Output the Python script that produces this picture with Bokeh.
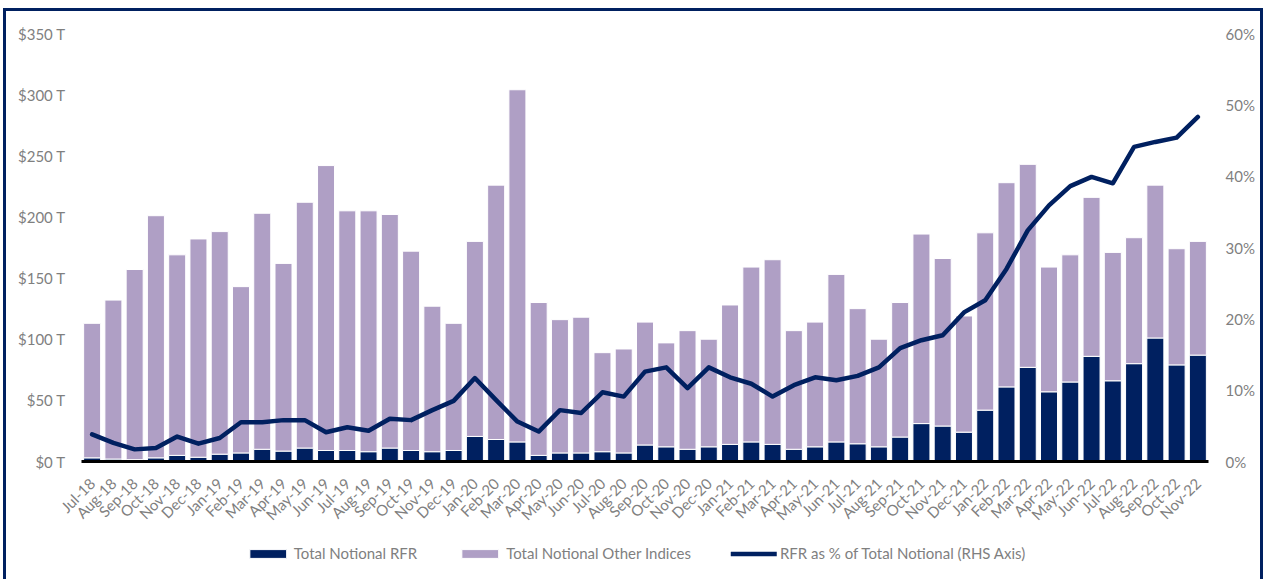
import math
from bokeh.plotting import figure
from bokeh.models import (FactorRange, Range1d, LinearAxis, FixedTicker,
                          Legend, LegendItem)
from bokeh.embed import file_html
from bokeh.resources import INLINE

months = [
    "Jul-18", "Aug-18", "Sep-18", "Oct-18", "Nov-18", "Dec-18",
    "Jan-19", "Feb-19", "Mar-19", "Apr-19", "May-19", "Jun-19",
    "Jul-19", "Aug-19", "Sep-19", "Oct-19", "Nov-19", "Dec-19",
    "Jan-20", "Feb-20", "Mar-20", "Apr-20", "May-20", "Jun-20",
    "Jul-20", "Aug-20", "Sep-20", "Oct-20", "Nov-20", "Dec-20",
    "Jan-21", "Feb-21", "Mar-21", "Apr-21", "May-21", "Jun-21",
    "Jul-21", "Aug-21", "Sep-21", "Oct-21", "Nov-21", "Dec-21",
    "Jan-22", "Feb-22", "Mar-22", "Apr-22", "May-22", "Jun-22",
    "Jul-22", "Aug-22", "Sep-22", "Oct-22", "Nov-22",
]

# Total Notional RFR ($T)
rfr = [
    3, 2, 1.5, 3, 5, 3.5,
    6, 7, 10, 8.5, 11, 9, 9, 8, 11, 9, 8, 9,
    20.5, 18, 16, 5, 7, 7, 8, 7, 13.5, 12, 10, 12,
    14, 16, 14, 10, 12, 16, 14.5, 12, 20, 31, 29, 24,
    42, 61, 77, 57, 65, 86, 66, 80, 101, 79, 87,
]

# Total Notional Other Indices ($T)
other = [
    110, 130, 155.5, 198, 164, 178.5,
    182, 136, 193, 153.5, 201, 233, 196, 197, 191, 163, 119, 104,
    159.5, 208, 288, 125, 109, 111, 81, 85, 100.5, 85, 97, 88,
    114, 143, 151, 97, 102, 137, 110.5, 88, 110, 155, 137, 95,
    145, 167, 166, 102, 104, 130, 105, 103, 125, 95, 93,
]

# RFR as % of Total Notional (RHS)
pct = [
    3.8, 2.6, 1.7, 1.9, 3.5, 2.5,
    3.3, 5.5, 5.5, 5.8, 5.8, 4.1, 4.8, 4.3, 6.0, 5.8, 7.2, 8.5,
    11.7, 8.6, 5.6, 4.2, 7.2, 6.8, 9.7, 9.1, 12.6, 13.2, 10.3, 13.2,
    11.8, 10.9, 9.1, 10.7, 11.8, 11.4, 12.0, 13.2, 15.9, 17.0, 17.7, 20.9,
    22.6, 27.0, 32.4, 35.9, 38.6, 39.9, 39.0, 44.1, 44.8, 45.4, 48.3,
]

left_ticks = [0, 50, 100, 150, 200, 250, 300, 350]
left_labels = ["$0 T", "$50 T", "$100 T", "$150 T", "$200 T", "$250 T", "$300 T", "$350 T"]
right_ticks = [0, 10, 20, 30, 40, 50, 60]
right_labels = ["0%", "10%", "20%", "30%", "40%", "50%", "60%"]
legend_labels = ["Total Notional RFR", "Total Notional Other Indices",
                 "RFR as % of Total Notional (RHS Axis)"]

NAVY = "#002060"
LILAC = "#AF9FC5"
GRAY = "#7F7F7F"
FONT = "Lato"

src = {"months": months, "rfr": rfr, "other": other}

# ---------------- main chart ----------------
p = figure(
    x_range=FactorRange(*months),
    y_range=Range1d(0, 350),
    width=1260, height=571,
    min_border_left=75, min_border_right=58, min_border_top=22, min_border_bottom=121,
    output_backend="svg", toolbar_location=None,
)
p.extra_y_ranges = {"pct": Range1d(0, 60)}
p.outline_line_color = None
p.xgrid.visible = False
p.ygrid.visible = False
p.styles = {"border-top": "3px solid " + NAVY, "border-left": "3px solid " + NAVY,
            "border-right": "3px solid " + NAVY, "border-bottom": "none",
            "margin-left": "3px", "margin-top": "8px"}

bars = p.vbar_stack(["rfr", "other"], x="months", width=0.8, source=src,
                    color=[NAVY, LILAC], line_color="white", line_width=1)
ln = p.line(x=months, y=pct, y_range_name="pct", color=NAVY, line_width=4.5,
            line_join="round", line_cap="round")

# left axis
ya = p.yaxis[0]
ya.ticker = FixedTicker(ticks=left_ticks)
ya.major_label_overrides = {t: l for t, l in zip(left_ticks, left_labels)}
ya.axis_line_color = None
ya.major_tick_line_color = None
ya.minor_tick_line_color = None
ya.major_tick_out = 0
ya.minor_tick_out = 0
ya.major_label_text_color = GRAY
ya.major_label_text_font = FONT
ya.major_label_text_font_size = "15px"
ya.major_label_standoff = 16

# right axis
ra = LinearAxis(y_range_name="pct", ticker=FixedTicker(ticks=right_ticks),
                major_label_overrides={t: l for t, l in zip(right_ticks, right_labels)})
ra.axis_line_color = None
ra.major_tick_line_color = None
ra.minor_tick_line_color = None
ra.major_tick_out = 0
ra.minor_tick_out = 0
ra.major_label_text_color = GRAY
ra.major_label_text_font = FONT
ra.major_label_text_font_size = "15px"
ra.major_label_standoff = 17
p.add_layout(ra, "right")

# x axis
xa = p.xaxis[0]
xa.axis_line_color = "black"
xa.axis_line_width = 3
xa.major_tick_line_color = None
xa.minor_tick_line_color = None
xa.major_tick_out = 0
xa.minor_tick_out = 0
xa.major_label_orientation = math.pi / 4
xa.major_label_text_color = GRAY
xa.major_label_text_font = FONT
xa.major_label_text_font_size = "15px"
xa.major_label_standoff = 19

# ---------------- legend strip (overlaid below the axis labels) ----------------
# same series, drawn outside this strip's visible range; only the legend shows
q = figure(width=1250, height=30, min_border=0,
           x_range=FactorRange(*months), y_range=Range1d(1000, 1001),
           x_axis_location=None, y_axis_location=None,
           output_backend="svg", toolbar_location=None)
q.outline_line_color = None
q.background_fill_color = None
q.border_fill_color = None
q.xgrid.visible = False
q.ygrid.visible = False
q.styles = {"position": "absolute", "left": "10px", "top": "538px"}

qbars = q.vbar_stack(["rfr", "other"], x="months", width=0.8, source=src,
                     color=[NAVY, LILAC], line_color="white", line_width=1)
qln = q.line(x=months, y=pct, color=NAVY, line_width=4.5, line_cap="round")

legend = Legend(items=[
    LegendItem(label=legend_labels[0], renderers=[qbars[0]]),
    LegendItem(label=legend_labels[1], renderers=[qbars[1]]),
    LegendItem(label=legend_labels[2], renderers=[qln]),
], orientation="horizontal", location="center")
legend.border_line_color = None
legend.background_fill_alpha = 0
legend.label_text_color = GRAY
legend.label_text_font = FONT
legend.label_text_font_size = "15px"
legend.glyph_width = 46
legend.glyph_height = 11
legend.label_standoff = 3
legend.spacing = 40
legend.margin = 0
legend.padding = 0
q.add_layout(legend)

open("out.html", "w").write(file_html([p, q], INLINE))
